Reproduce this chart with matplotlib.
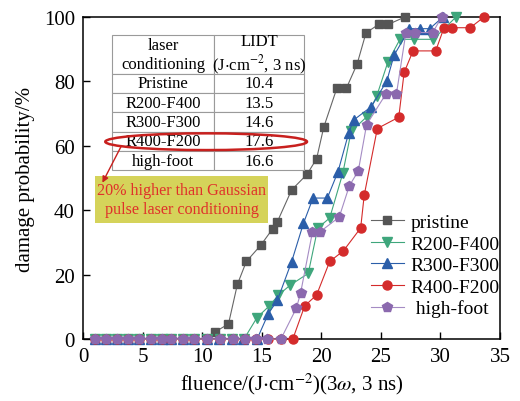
import matplotlib
matplotlib.use("Agg")
import matplotlib.pyplot as plt
from matplotlib.patches import Ellipse, Rectangle

plt.rcParams["font.family"] = ["Liberation Serif", "DejaVu Serif"]
plt.rcParams["mathtext.fontset"] = "stix"

# damage probability curves (fluence in J/cm^2, probability in %)
pristine_x = [1.0, 1.9, 2.8, 3.8, 4.7, 5.7, 6.6, 7.4, 8.4, 9.3, 10.4,
              11.1, 12.2, 12.95, 13.7, 14.9, 15.9, 16.3, 17.5, 18.8, 19.6,
              20.2, 21.3, 22.1, 23.0, 23.75, 24.8, 25.6, 27.0]
pristine_y = [0, 0, 0, 0, 0, 0, 0, 0, 0, 0, 0,
              2.3, 4.7, 17.0, 24.1, 29.1, 34.2, 36.4, 46.3, 51.2, 56.0,
              65.8, 77.9, 77.9, 85.4, 95.1, 97.7, 97.7, 100]

r200_x = [1.0, 1.9, 2.8, 3.8, 4.7, 5.7, 6.6, 7.4, 8.4, 9.3, 10.4, 11.5, 12.5, 13.5,
          14.6, 15.6, 16.4, 17.4, 18.9, 19.7, 20.7, 21.8, 22.5, 23.8, 24.65,
          25.6, 26.6, 27.8, 29.4, 31.3]
r200_y = [0, 0, 0, 0, 0, 0, 0, 0, 0, 0, 0, 0, 0, 0,
          6.7, 10.2, 13.7, 16.8, 20.4, 34.5, 37.6, 51.5, 64.5, 69.0, 75.5,
          86.2, 93.1, 93.1, 93.1, 100]

r300_x = [1.0, 1.9, 2.8, 3.8, 4.7, 5.7, 6.6, 7.4, 8.4, 9.3, 10.4, 11.4, 12.5, 13.4, 14.6,
          15.55, 16.3, 17.5, 18.5, 19.3, 20.5, 21.4, 22.3, 22.7, 24.2, 25.5,
          26.1, 27.4, 28.3, 29.1, 30.2]
r300_y = [0, 0, 0, 0, 0, 0, 0, 0, 0, 0, 0, 0, 0, 0, 0,
          7.9, 12.0, 24.0, 36.0, 43.8, 43.8, 52.0, 64.1, 68.0, 72.2, 80.2,
          88.1, 96.4, 96.4, 96.4, 100]

r400_x = [1.0, 1.9, 2.8, 3.8, 4.7, 5.7, 6.6, 7.4, 8.4, 9.3, 10.4, 11.5, 12.6, 13.6,
          14.5, 15.5, 16.6, 17.6, 18.6, 19.6, 20.7, 21.85, 23.3, 23.6, 24.7,
          26.5, 26.95, 27.7, 29.6, 30.3, 31.0, 32.5, 33.65]
r400_y = [0, 0, 0, 0, 0, 0, 0, 0, 0, 0, 0, 0, 0, 0,
          0, 0, 0, 0, 10.3, 13.7, 24.1, 27.4, 34.5, 44.7, 65.4,
          68.9, 82.8, 89.5, 89.5, 96.7, 96.7, 96.7, 100]

hf_x = [1.0, 1.9, 2.8, 3.8, 4.7, 5.7, 6.6, 7.4, 8.4, 9.3, 10.4, 11.5, 12.6, 13.6,
        14.5, 15.4, 16.6, 17.9, 18.25, 19.25, 19.85, 21.5, 22.35, 23.1, 23.8,
        25.4, 26.3, 27.1, 27.9, 29.35, 30.1]
hf_y = [0, 0, 0, 0, 0, 0, 0, 0, 0, 0, 0, 0, 0, 0,
        0, 0, 0, 9.6, 14.2, 33.2, 33.2, 37.9, 47.6, 52.2, 66.6,
        76.0, 76.0, 95.2, 95.2, 95.2, 100]

# LIDT table
conditions = ["Pristine", "R200-F400", "R300-F300", "R400-F200", "high-foot"]
lidt = ["10.4", "13.5", "14.6", "17.6", "16.6"]

series = [
    (pristine_x, pristine_y, "pristine", "#555555", "#666666", "s", 5.5),
    (r200_x, r200_y, "R200-F400", "#3fa67c", "#3fa67c", "v", 7),
    (r300_x, r300_y, "R300-F300", "#2b5ea9", "#2b5ea9", "^", 7),
    (r400_x, r400_y, "R400-F200", "#d42b2b", "#d42b2b", "o", 6.5),
    (hf_x, hf_y, " high-foot", "#8b69ae", "#a58cc4", "p", 7.5),
]

fig = plt.figure(figsize=(5.2, 4.02), dpi=100)
ax = fig.add_axes([0.16, 0.154, 0.8015, 0.801])

for xs, ys, lab, mc, lc, mk, ms in series:
    ax.plot(xs, ys, color=lc, lw=0.8, marker=mk, ms=ms, mfc=mc, mec=mc,
            label=lab, clip_on=False, zorder=3)

ax.set_xlim(0, 35)
ax.set_ylim(0, 100)
ax.set_xticks(range(0, 36, 5))
ax.set_yticks(range(0, 101, 20))
ax.tick_params(direction="in", length=5, width=1, labelsize=15, pad=6,
               top=False, right=False)
for sp in ax.spines.values():
    sp.set_linewidth(1.1)

ax.set_xlabel(r"fluence/(J$\cdot$cm$^{-2}$)(3$\omega$, 3 ns)", fontsize=15, labelpad=3)
ax.set_ylabel("damage probability/%", fontsize=15, labelpad=6)

ax.legend(loc="upper left", bbox_to_anchor=(0.69, 0.39), frameon=False,
          fontsize=14, handlelength=1.7, handletextpad=0.35, labelspacing=0.2,
          borderpad=0, borderaxespad=0)

# inset table of LIDT values
cell_text = [["laser\nconditioning", "LIDT\n" + r"(J$\cdot$cm$^{-2}$, 3 ns)"]]
for c, v in zip(conditions, lidt):
    cell_text.append([c, v])
tbl = ax.table(cellText=cell_text, cellLoc="center",
               bbox=[0.0695, 0.524, 0.4605, 0.42], colWidths=[0.53, 0.47])
tbl.auto_set_font_size(False)
tbl.set_fontsize(12)
for (r, c), cell in tbl.get_celld().items():
    cell.set_edgecolor("#9a9a9a")
    cell.set_linewidth(0.8)
    cell.set_facecolor("white")
    cell.set_height(2.0 if r == 0 else 1.0)
tbl.set_zorder(4)

# highlight of the R400-F200 row
ax.add_patch(Ellipse((0.295, 0.613), 0.484, 0.052, transform=ax.transAxes,
                     fill=False, ec="#c8201e", lw=1.8, zorder=6))
ax.annotate("", xy=(0.043, 0.478), xytext=(0.094, 0.606),
            xycoords="axes fraction",
            arrowprops=dict(arrowstyle="-|>", color="#c8201e", lw=1.0,
                            mutation_scale=9), zorder=6)
ax.add_patch(Rectangle((0.029, 0.359), 0.415, 0.148, transform=ax.transAxes,
                       fc="#d5d35a", ec="none", zorder=5))
ax.text(0.237, 0.433, "20% higher than Gaussian\npulse laser conditioning",
        transform=ax.transAxes, ha="center", va="center", color="#e0302a",
        fontsize=11.6, linespacing=1.2, zorder=6)

fig.savefig("out.png", dpi=100)
